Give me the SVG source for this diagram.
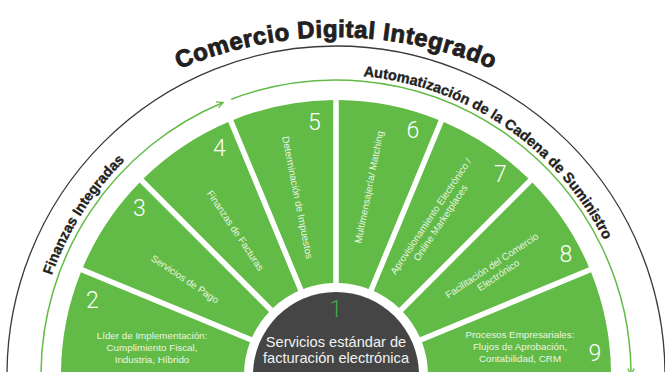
<svg xmlns="http://www.w3.org/2000/svg" width="665" height="372" viewBox="0 0 665 372">
<style>
.wedge{fill:#62bb46}
.num{font-family:Roboto,"Liberation Sans",sans-serif;font-weight:300;font-size:23px;fill:#ffffff;text-anchor:middle}
.lbl{font-family:"Liberation Sans",Arial,sans-serif;font-size:9.8px;fill:#eaf5e4;text-anchor:middle}
.arc-t{font-family:"Liberation Sans",Arial,sans-serif;font-weight:bold;fill:#231f20;stroke:#231f20}
.ctr{font-family:"Liberation Sans",Arial,sans-serif;font-size:14.6px;fill:#f2f2f2;text-anchor:middle}
</style>
<defs>
<marker id="chev" viewBox="0 0 10 10" refX="9" refY="5" markerWidth="8" markerHeight="8" markerUnits="userSpaceOnUse" orient="auto">
<path d="M1,1 L9,5 L1,9" fill="none" stroke="#62bb46" stroke-width="1.6"/>
</marker>
<path id="pTitle" d="M -64 437 A 400 400 0 0 1 736 437"/>
<path id="pAuto" d="M 363.2 76.2 A 300 300 0 0 1 636 375"/>
<path id="pFin" d="M 51.9 275.5 A 301 301 0 0 1 185.5 114.3"/>
</defs>
<rect width="665" height="372" fill="#ffffff"/>

<g id="connectors">
<path d="M 7 375 A 329 329 0 0 1 665 375" fill="none" stroke="#3a3a3a" stroke-width="1.3"/>
<path d="M 41 375 A 295 295 0 0 1 223.11 102.46" fill="none" stroke="#62bb46" stroke-width="1.5" marker-end="url(#chev)"/>
<path d="M 231.24 99.22 A 295 295 0 0 1 631 375" fill="none" stroke="#62bb46" stroke-width="1.5" marker-end="url(#chev)"/>
</g>

<g id="titles">
<text class="arc-t" font-size="24" letter-spacing="0.6" stroke-width="0.9"><textPath href="#pTitle" startOffset="50%" text-anchor="middle">Comercio Digital Integrado</textPath></text>
<text class="arc-t" font-size="14.6" stroke-width="0.35"><textPath href="#pAuto">Automatización de la Cadena de Suministro</textPath></text>
<text class="arc-t" font-size="14.3" stroke-width="0.35"><textPath href="#pFin">Finanzas Integradas</textPath></text>
</g>

<g id="node2">
<path class="wedge" d="M 80.89 272.30 A 275 275 0 0 0 61 375 L 244 375 A 92 92 0 0 1 249.99 342.35 Z"/>
<text class="num" x="92.5" y="308">2</text>
<text class="lbl"><tspan x="152" y="338.5">Líder de Implementación:</tspan><tspan x="152" y="351">Cumplimiento Fiscal,</tspan><tspan x="152" y="363">Industria, Híbrido</tspan></text>
</g>
<g id="node3">
<path class="wedge" d="M 139.60 182.51 A 275 275 0 0 0 83.01 267.22 L 252.09 337.27 A 92 92 0 0 1 269.03 311.92 Z"/>
<text class="num" x="139.5" y="216">3</text>
<text class="lbl" transform="translate(185 279) rotate(33.75)" y="3.4">Servicios de Pago</text>
</g>
<g id="node4">
<path class="wedge" d="M 228.22 122.01 A 275 275 0 0 0 143.51 178.60 L 272.92 308.03 A 92 92 0 0 1 298.27 291.09 Z"/>
<text class="num" x="219.5" y="156">4</text>
<text class="lbl" transform="translate(235.5 230.5) rotate(56.25)" y="3.4">Finanzas de Facturas</text>
</g>
<g id="node5">
<path class="wedge" d="M 333.25 100.01 A 275 275 0 0 0 233.30 119.89 L 303.35 288.99 A 92 92 0 0 1 333.25 283.04 Z"/>
<text class="num" x="314.5" y="130">5</text>
<text class="lbl" transform="translate(297.5 197.5) rotate(78.75)" y="3.4">Determinación de Impuestos</text>
</g>
<g id="node6">
<path class="wedge" d="M 438.70 119.89 A 275 275 0 0 0 338.75 100.01 L 338.75 283.04 A 92 92 0 0 1 368.65 288.99 Z"/>
<text class="num" x="413" y="138">6</text>
<text class="lbl" transform="translate(369 187) rotate(-78.75)" y="3.4">Multimensajería/ Matching</text>
</g>
<g id="node7">
<path class="wedge" d="M 528.49 178.60 A 275 275 0 0 0 443.78 122.01 L 373.73 291.09 A 92 92 0 0 1 399.08 308.03 Z"/>
<text class="num" x="500.5" y="182">7</text>
<text class="lbl" transform="translate(435.5 219.5) rotate(-56.25)"><tspan x="0" y="-2.3">Aprovisionamiento Electrónico /</tspan><tspan x="0" y="9.3">Online Marketplaces</tspan></text>
</g>
<g id="node8">
<path class="wedge" d="M 588.99 267.22 A 275 275 0 0 0 532.40 182.51 L 402.97 311.92 A 92 92 0 0 1 419.91 337.27 Z"/>
<text class="num" x="566" y="262">8</text>
<text class="lbl" transform="translate(495 270.3) rotate(-33.75)"><tspan x="0" y="-2.3">Facilitación del Comercio</tspan><tspan x="0" y="9.3">Electrónico</tspan></text>
</g>
<g id="node9">
<path class="wedge" d="M 611 375 A 275 275 0 0 0 591.11 272.30 L 422.01 342.35 A 92 92 0 0 1 428 375 Z"/>
<text class="num" x="595" y="361">9</text>
<text class="lbl"><tspan x="520" y="337.5">Procesos Empresariales:</tspan><tspan x="520" y="350">Flujos de Aprobación,</tspan><tspan x="520" y="362">Contabilidad, CRM</tspan></text>
</g>
<g id="node1">
<circle cx="336" cy="375" r="83" fill="#454545"/>
<text class="num" x="336" y="317" style="fill:#3fae49">1</text>
<text class="ctr"><tspan x="336" y="347">Servicios estándar de</tspan><tspan x="336" y="363">facturación electrónica</tspan></text>
</g>
</svg>
